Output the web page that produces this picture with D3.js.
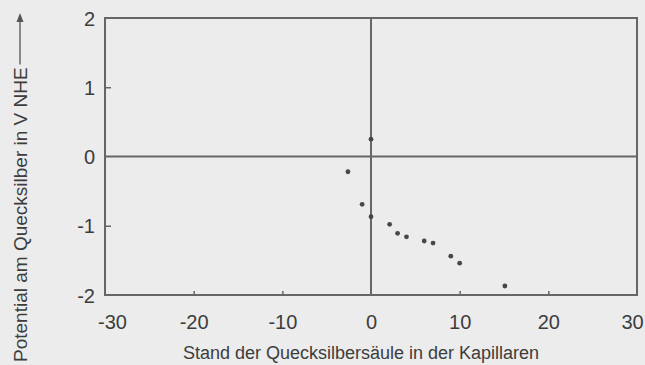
<!DOCTYPE html>
<html>
<head>
<meta charset="utf-8">
<script src="https://cdn.jsdelivr.net/npm/d3@7/dist/d3.min.js"></script>
<style>
  html, body { margin: 0; padding: 0; background: #ececec; }
  svg { display: block; }
  text { font-family: "Liberation Sans", Arial, Helvetica, sans-serif; fill: #3d3d3d; }
</style>
</head>
<body>
<script>
// Measured potential of the mercury electrode vs. height of the mercury column
const columnHeight = [-2.6, -1.0, 0.0, 0.0, 2.1, 3.0, 4.0, 6.0, 7.0, 9.0, 10.0, 15.1];
const potential    = [-0.22, -0.69, 0.25, -0.87, -0.98, -1.11, -1.16, -1.22, -1.25, -1.44, -1.54, -1.87];

const xTicks = [-30, -20, -10, 0, 10, 20, 30];
const yTicks = [-2, -1, 0, 1, 2];
const xTitle = "Stand der Quecksilbersäule in der Kapillaren";
const yTitle = "Potential am Quecksilber in V NHE";

const W = 645, H = 365;
const ink = "#666";
const textInk = "#3d3d3d";
const plain = d => String(d);   // hyphen-minus, no decimals

const svg = d3.select("body").append("svg").attr("width", W).attr("height", H);

const x = d3.scaleLinear().domain([-30, 30]).range([105, 637]);
const y = d3.scaleLinear().domain([-2, 2]).range([295, 18]);

// frame
svg.append("rect")
  .attr("x", x(-30)).attr("y", y(2))
  .attr("width", x(30) - x(-30)).attr("height", y(-2) - y(2))
  .attr("fill", "none").attr("stroke", ink).attr("stroke-width", 2);

// zero cross lines
svg.append("line")
  .attr("x1", x(-30)).attr("x2", x(30)).attr("y1", y(0)).attr("y2", y(0))
  .attr("stroke", ink).attr("stroke-width", 2);
svg.append("line")
  .attr("x1", x(0)).attr("x2", x(0)).attr("y1", y(2)).attr("y2", y(-2))
  .attr("stroke", ink).attr("stroke-width", 2);

// bottom axis: short inward ticks, labels below
const xAxis = d3.axisBottom(x).tickValues(xTicks).tickFormat(plain)
  .tickSizeInner(-4).tickSizeOuter(0).tickPadding(20);
const gx = svg.append("g").attr("transform", `translate(0,${y(-2)})`).call(xAxis);
gx.select(".domain").remove();
gx.selectAll(".tick line").attr("stroke", ink).attr("stroke-width", 1.5)
  .attr("display", d => (d === -30 || d === 0 || d === 30) ? "none" : null);
gx.selectAll(".tick text")
  .attr("font-size", 20).attr("fill", textInk)
  .attr("font-family", "Liberation Sans, Arial, sans-serif")
  .attr("dx", d => d === -30 ? 7 : d === 30 ? -5 : 0);

// left axis: inward ticks, labels to the left
const yAxis = d3.axisLeft(y).tickValues(yTicks).tickFormat(plain)
  .tickSizeInner(-6).tickSizeOuter(0).tickPadding(12);
const gy = svg.append("g").attr("transform", `translate(${x(-30)},0)`).call(yAxis);
gy.select(".domain").remove();
gy.selectAll(".tick line").attr("stroke", ink).attr("stroke-width", 1.5)
  .attr("display", d => (d === -2 || d === 0 || d === 2) ? "none" : null);
gy.selectAll(".tick text")
  .attr("font-size", 20).attr("fill", textInk)
  .attr("font-family", "Liberation Sans, Arial, sans-serif")
  .attr("x", -10).attr("dy", "0.36em");

// data points
svg.append("g").selectAll("circle")
  .data(columnHeight.map((v, i) => [v, potential[i]]))
  .join("circle")
  .attr("cx", d => x(d[0])).attr("cy", d => y(d[1]))
  .attr("r", 2.4).attr("fill", "#474747");

// axis titles
svg.append("text")
  .attr("x", 361).attr("y", 359)
  .attr("text-anchor", "middle").attr("font-size", 18)
  .text(xTitle);

const yt = svg.append("text")
  .attr("transform", "translate(27,362) rotate(-90)")
  .attr("text-anchor", "start").attr("font-size", 19)
  .text(yTitle);

// arrow continuing the vertical title upward
const len = yt.node().getComputedTextLength();
const yEnd = 362 - len - 3;
svg.append("line")
  .attr("x1", 20).attr("x2", 20).attr("y1", yEnd).attr("y2", 20)
  .attr("stroke", "#555").attr("stroke-width", 1.3);
svg.append("path")
  .attr("d", d3.line()([[16.5, 22], [20, 13], [23.5, 22]]) + "Z")
  .attr("fill", "#555");
</script>
</body>
</html>
